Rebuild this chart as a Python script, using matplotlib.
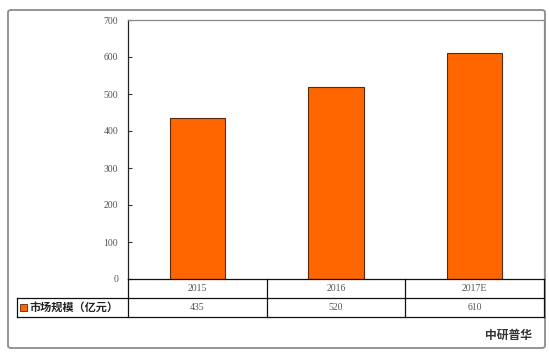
import matplotlib.pyplot as plt
from matplotlib.lines import Line2D
from matplotlib.patches import FancyBboxPatch, Rectangle
from matplotlib.transforms import blended_transform_factory

years = ['2015', '2016', '2017E']
values = [435, 520, 610]
series_name = '市场规模（亿元）'
y_ticks = [0, 100, 200, 300, 400, 500, 600, 700]

W, H = 549, 353
fig = plt.figure(figsize=(W / 100, H / 100), dpi=100)
fig.patch.set_facecolor('white')

def fx(px):
    return px / W

def fy(py):
    return 1 - py / H

# outer frame
fig.add_artist(FancyBboxPatch((fx(8), fy(348)), fx(537), 338 / H,
                              boxstyle='round,pad=0,rounding_size=0.006',
                              transform=fig.transFigure, fill=False,
                              edgecolor='#8c8c8c', linewidth=1.3))

ax = fig.add_axes([fx(128), fy(279), fx(544 - 128), (279 - 20) / H])
x = range(len(years))
ax.bar(x, values, width=0.4, color='#ff6600', edgecolor='#5a2a10', linewidth=0.8)
ax.set_xlim(-0.5, 2.5)
ax.set_ylim(0, 700)
ax.set_yticks(y_ticks)
ax.set_yticklabels([str(v) for v in y_ticks], fontsize=7, color='#555555',
                   family='Liberation Serif')
ax.tick_params(axis='y', direction='in', length=3, width=0.8, pad=7, color='#333333')
ax.set_xticks([])
ax.spines['left'].set_color('#222222')
ax.spines['left'].set_linewidth(0.9)
for s in ['top', 'right']:
    ax.spines[s].set_color('#888888')
    ax.spines[s].set_linewidth(0.9)
ax.spines['bottom'].set_visible(False)

# data table under the plot
line_kw = dict(transform=fig.transFigure, color='#111111', linewidth=0.9)
y0, y1, y2 = fy(279), fy(298), fy(316.5)
fig.add_artist(Line2D([fx(128), fx(544)], [y0, y0], **line_kw))
fig.add_artist(Line2D([fx(17), fx(544)], [y1, y1], **line_kw))
fig.add_artist(Line2D([fx(17), fx(544)], [y2, y2], **line_kw))
fig.add_artist(Line2D([fx(17), fx(17)], [y1, y2], **line_kw))
for px in [128, 544]:
    fig.add_artist(Line2D([fx(px), fx(px)], [y0, y2], **line_kw))
cell_w = (544 - 128) / len(years)
for i in range(1, len(years)):
    px = 128 + i * cell_w
    fig.add_artist(Line2D([fx(px), fx(px)], [y0, y2], **line_kw))

trans = blended_transform_factory(ax.transData, fig.transFigure)
for i, (yr, v) in enumerate(zip(years, values)):
    ax.text(i, (y0 + y1) / 2, yr, transform=trans, ha='center', va='center',
            fontsize=7, color='#555555', family='Liberation Serif')
    ax.text(i, (y1 + y2) / 2, str(v), transform=trans, ha='center', va='center',
            fontsize=7, color='#555555', family='Liberation Serif')

fig.add_artist(Rectangle((fx(20), fy(310.5)), fx(6.5), 6.5 / H, transform=fig.transFigure,
                         facecolor='#ff6600', edgecolor='#5a2a10', linewidth=0.6))
fig.text(fx(29), (y1 + y2) / 2, series_name, ha='left', va='center', fontsize=8,
         fontweight='bold', color='#222222', family=['Noto Sans CJK SC', 'DejaVu Sans'])

fig.text(fx(532), fy(335), '中研普华', ha='right', va='center', fontsize=8.5,
         fontweight='bold', color='#333333', family=['Noto Sans CJK SC', 'DejaVu Sans'])

fig.savefig('out.png', dpi=100)
